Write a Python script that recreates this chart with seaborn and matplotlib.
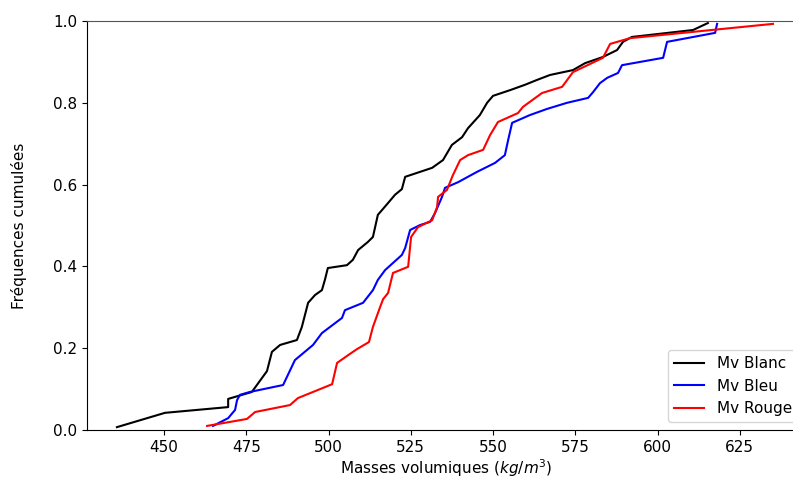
import numpy as np
import pandas as pd
import matplotlib
matplotlib.use("Agg")
import matplotlib.pyplot as plt
import seaborn as sns

# Cumulative frequency curves (value, cumulated frequency)
blanc_x = [435.7, 450.3, 469.5, 469.5, 476.7, 481.3, 482.8, 485.3, 490.4, 491.9,
           493.8, 495.9, 498.0, 498.9, 499.8, 505.6, 507.4, 509.0, 512.0, 513.5,
           515.0, 518.1, 520.2, 522.3, 523.3, 531.5, 534.8, 537.5, 540.6, 542.4,
           546.0, 548.2, 550.0, 555.2, 559.7, 563.4, 567.3, 574.3, 578.0, 583.4,
           587.7, 589.5, 592.2, 597.7, 610.8, 615.3]
blanc_y = [0.007, 0.042, 0.056, 0.076, 0.093, 0.144, 0.191, 0.208, 0.220, 0.252,
           0.311, 0.330, 0.342, 0.367, 0.396, 0.403, 0.416, 0.440, 0.460, 0.472,
           0.526, 0.555, 0.575, 0.589, 0.619, 0.641, 0.660, 0.697, 0.716, 0.738,
           0.770, 0.800, 0.817, 0.831, 0.844, 0.856, 0.868, 0.880, 0.897, 0.912,
           0.929, 0.949, 0.961, 0.966, 0.978, 0.995]

bleu_x = [464.9, 469.5, 471.6, 472.2, 473.1, 476.1, 486.2, 489.8, 495.3, 498.0,
          504.1, 505.0, 510.5, 513.5, 515.0, 517.2, 522.3, 523.3, 524.8, 527.8,
          530.9, 532.4, 534.5, 535.4, 539.4, 545.1, 550.6, 553.6, 554.6, 555.8,
          561.2, 566.4, 572.5, 578.9, 580.4, 582.5, 584.7, 588.0, 589.2, 601.7,
          602.9, 617.5, 618.1]
bleu_y = [0.010, 0.029, 0.049, 0.073, 0.086, 0.093, 0.110, 0.171, 0.208, 0.237,
          0.274, 0.293, 0.311, 0.342, 0.367, 0.391, 0.428, 0.445, 0.489, 0.501,
          0.509, 0.531, 0.570, 0.592, 0.606, 0.631, 0.653, 0.672, 0.709, 0.751,
          0.770, 0.785, 0.800, 0.812, 0.826, 0.848, 0.861, 0.873, 0.892, 0.910,
          0.949, 0.971, 0.993]

rouge_x = [463.1, 475.2, 477.7, 488.3, 490.7, 501.1, 502.6, 506.5, 508.7, 512.3,
           513.5, 515.7, 516.6, 518.1, 519.6, 524.2, 525.1, 527.2, 531.5, 533.0,
           533.3, 536.0, 537.8, 540.0, 542.4, 547.0, 549.1, 551.5, 557.6, 559.1,
           564.9, 571.0, 574.3, 583.4, 585.6, 591.6, 635.1]
rouge_y = [0.010, 0.027, 0.044, 0.061, 0.078, 0.112, 0.164, 0.186, 0.198, 0.215,
           0.252, 0.301, 0.320, 0.335, 0.384, 0.399, 0.472, 0.496, 0.513, 0.545,
           0.570, 0.587, 0.623, 0.660, 0.672, 0.685, 0.721, 0.753, 0.775, 0.790,
           0.824, 0.839, 0.875, 0.910, 0.944, 0.958, 0.993]

labels = ["Mv Blanc", "Mv Bleu", "Mv Rouge"]
colors = ["black", "blue", "red"]

frames = []
for lab, xs, ys in zip(labels, [blanc_x, bleu_x, rouge_x], [blanc_y, bleu_y, rouge_y]):
    frames.append(pd.DataFrame({"x": xs, "y": ys, "serie": lab}))
df = pd.concat(frames, ignore_index=True)

fig = plt.figure(figsize=(7.93, 4.79), dpi=100)
# the right edge of the axes runs slightly past the picture, as in the reference
ax = fig.add_axes([87 / 793, 1 - 430 / 479, (805.6 - 87) / 793, (430 - 21) / 479])

sns.lineplot(data=df, x="x", y="y", hue="serie", palette=dict(zip(labels, colors)),
             sort=False, estimator=None, linewidth=1.5, ax=ax)

ax.set_xlim(426.6, 645.0)
ax.set_ylim(0, 1.0)
ax.set_xticks([450, 475, 500, 525, 550, 575, 600, 625])
ax.set_yticks([0.0, 0.2, 0.4, 0.6, 0.8, 1.0])
ax.tick_params(labelsize=11)
ax.set_xlabel("Masses volumiques ($kg/m^3$)", fontsize=11, labelpad=2)
ax.set_ylabel("Fréquences cumulées", fontsize=11)
ax.yaxis.set_label_coords(-0.084, 0.5)
ax.spines["top"].set_color("#555555")

ax.legend(loc="lower right", fontsize=11, title=None)

fig.savefig("out.png", dpi=100)
